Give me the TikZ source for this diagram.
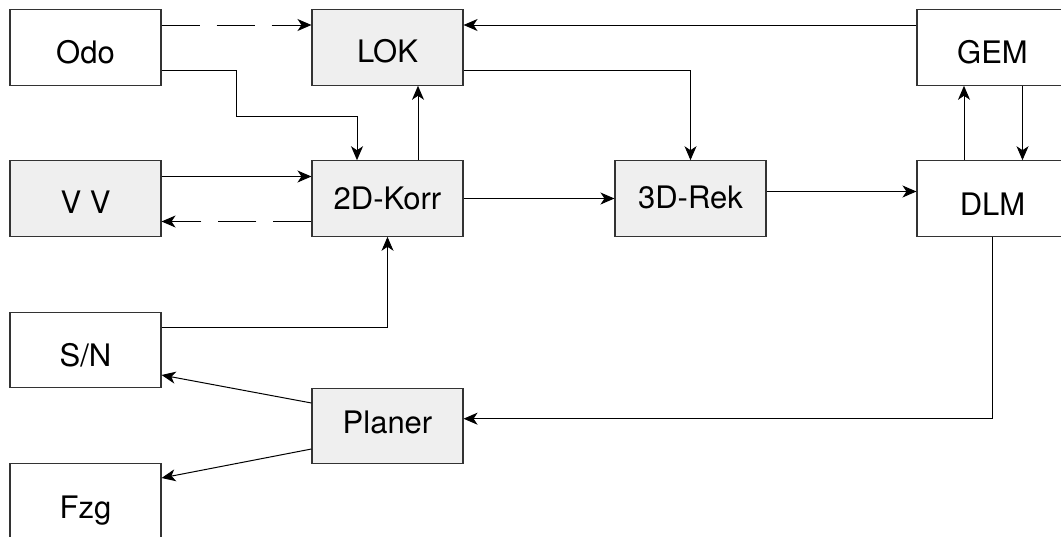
\documentclass[tikz,border=0pt]{standalone}
\usepackage{fontspec}
\setmainfont{TeX Gyre Heros}
\usetikzlibrary{arrows.meta}
\definecolor{boxfill}{HTML}{EFEFEF}
\definecolor{edge}{HTML}{333333}
\tikzset{
  box/.style={draw=edge, line width=1.1pt, minimum width=151pt, minimum height=75.5pt,
    inner sep=0pt, text depth=0pt, text height=22.3pt, font=\fontsize{31}{31}\selectfont, fill=white},
  grey/.style={fill=boxfill},
  conn/.style={draw=black, line width=1pt, -{Stealth[length=14pt,width=12pt,inset=4pt]}},
  dconn/.style={conn, dash pattern=on 38pt off 17pt},
}
\begin{document}
\begin{tikzpicture}[x=1pt,y=-1pt]
\useasboundingbox (0,0) rectangle (1061,536);
\clip (0,0) rectangle (1061,536);
\node[box, text height=31.3pt] (Odo) at (85.5,47.5) {Odo};
\node[box, grey, text height=30.3pt] (LOK) at (387.5,47.5) {LOK};
\node[box, text height=31.3pt] (GEM) at (992.5,47.5) {GEM};
\node[box, grey, text height=30.3pt] (VV) at (85.5,198.5) {V V};
\node[box, grey] (K2) at (387.5,198.5) {2D-Korr};
\node[box, grey, text height=20.3pt] (R3) at (690.5,198.5) {3D-Rek};
\node[box, text height=33.3pt] (DLM) at (992.5,198.5) {DLM};
\node[box, text height=32.3pt] (SN) at (85.5,350) {S/N};
\node[box, grey, text height=14.9pt] (PL) at (387.5,426) {Planer};
\node[box, text height=33.3pt] (Fzg) at (85.5,501.5) {Fzg};

\draw[dconn] ([yshift=22.5pt]Odo.east) -- ([yshift=22.5pt]LOK.west);
\draw[conn] ([yshift=-22.5pt]Odo.east) -| (236,116) -| ([xshift=-30.5pt]K2.north);
\draw[conn] ([xshift=30.5pt]K2.north) -- ([xshift=30.5pt]LOK.south);
\draw[conn] ([yshift=22pt]VV.east) -- ([yshift=22pt]K2.west);
\draw[dconn] ([yshift=-23pt]K2.west) -- ([yshift=-23pt]VV.east);
\draw[conn] (K2.east) -- (R3.west);
\draw[conn] ([yshift=-22.5pt]LOK.east) -| (R3.north);
\draw[conn] ([yshift=22.5pt]GEM.west) -- ([yshift=22.5pt]LOK.east);
\draw[conn] ([yshift=7pt]R3.east) -- ([yshift=7pt]DLM.west);
\draw[conn] ([xshift=-28.5pt]DLM.north) -- ([xshift=-28.5pt]GEM.south);
\draw[conn] ([xshift=30pt]GEM.south) -- ([xshift=30pt]DLM.north);
\draw[conn] (DLM.south) |- ([yshift=7.3pt]PL.east);
\draw[conn] ([yshift=22.3pt]SN.east) -| (K2.south);
\draw[conn] ([yshift=23pt]PL.west) -- ([yshift=-25pt]SN.east);
\draw[conn] ([yshift=-23pt]PL.west) -- ([yshift=23.5pt]Fzg.east);
\end{tikzpicture}
\end{document}
